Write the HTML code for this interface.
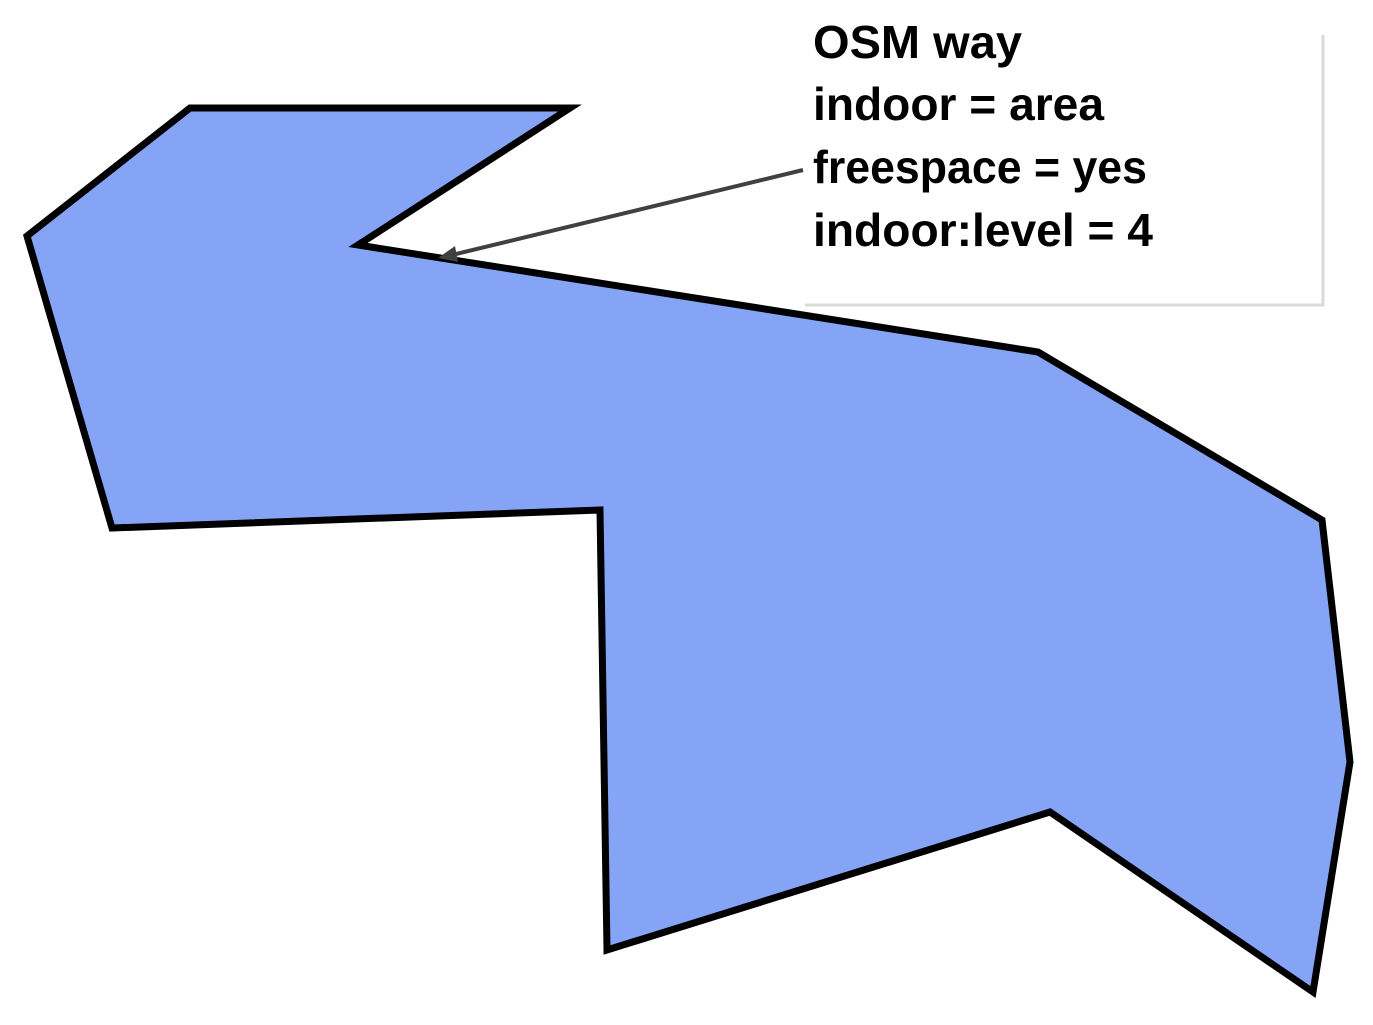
<!DOCTYPE html>
<html><head><meta charset="utf-8"><style>html,body{margin:0;padding:0;background:#fff;}svg{display:block}</style></head>
<body>
<svg width="1373" height="1025" viewBox="0 0 1373 1025" xmlns="http://www.w3.org/2000/svg">
<polyline points="805,305 1323,305 1323,35" fill="none" stroke="#d9d9d9" stroke-width="3"/>
<polygon points="190,108 570,108 358,245 1038,352 1322,520 1350,762 1313,992 1050,812 607,950 600,510 112,528 27,236" fill="#86a4f6" stroke="#000" stroke-width="7" stroke-linejoin="miter"/>
<line x1="803" y1="170" x2="452" y2="255" stroke="#404040" stroke-width="4"/>
<polygon points="438,258 455,246 458,262" fill="#404040"/>
<g font-family="Liberation Sans, sans-serif" font-weight="bold" font-size="46" fill="#000">
<text x="813" y="58" textLength="209" lengthAdjust="spacingAndGlyphs">OSM way</text>
<text x="813" y="120" textLength="291" lengthAdjust="spacingAndGlyphs">indoor = area</text>
<text x="813" y="183" textLength="334" lengthAdjust="spacingAndGlyphs">freespace = yes</text>
<text x="813" y="246" textLength="340" lengthAdjust="spacingAndGlyphs">indoor:level = 4</text>
</g>
</svg>
</body></html>
